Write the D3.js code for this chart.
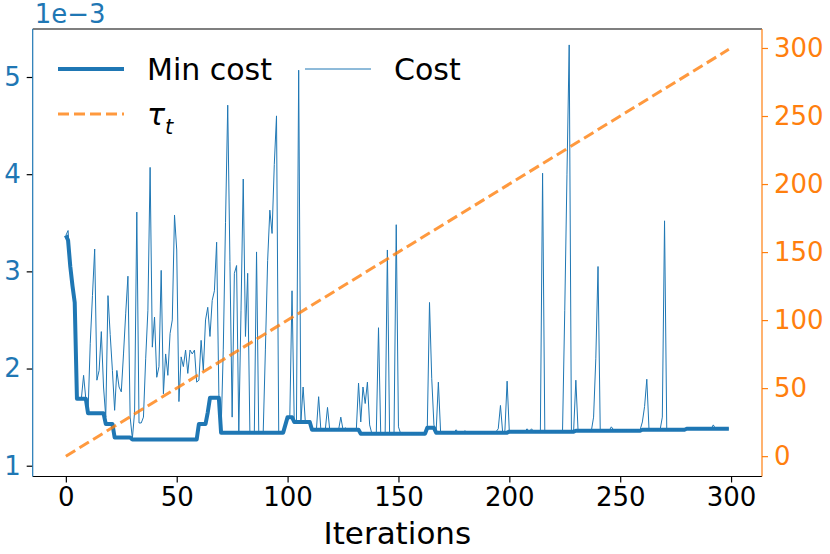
<!DOCTYPE html>
<head>
  <meta charset="utf-8">
  <title>Cost vs iterations</title>
</head>

<!-- Load d3.js -->
<script src="https://cdn.jsdelivr.net/npm/d3@7"></script>

<style>
body { margin: 0; background: #fff; }
text { font-family: "DejaVu Sans", sans-serif; }
</style>

<div id="my_dataviz"></div>

<script>

// ---------------------------//
//            DATA            //
// ---------------------------//

// cost per iteration, in units of 1e-3 (index = iteration)
var cost = [
  3.37,3.42,3.05,2.85,2.68,1.69,1.69,1.69,1.93,1.69,
  1.54,2.26,2.75,3.23,1.88,1.98,2.38,1.81,1.50,2.75,
  2.35,1.98,1.57,1.98,1.81,1.76,2.15,2.57,2.95,1.50,
  1.28,1.55,3.61,1.44,1.44,1.50,2.10,2.60,4.07,2.22,
  2.53,1.91,2.02,3.01,1.74,2.15,1.93,2.36,2.50,3.58,
  3.22,1.66,2.12,2.02,2.19,1.95,2.19,2.15,2.19,1.86,
  1.88,2.29,1.98,2.50,2.63,2.33,2.70,2.80,3.30,1.74,
  1.34,2.20,3.50,4.71,3.10,1.50,2.98,3.06,1.34,2.60,
  3.95,2.33,2.98,1.34,1.34,1.34,3.20,1.34,1.34,1.34,
  2.20,3.11,3.63,3.39,4.10,4.60,1.34,1.34,1.34,1.42,
  1.50,1.50,2.80,1.45,1.45,5.07,1.45,1.81,1.45,1.45,
  1.45,1.37,1.37,1.37,1.71,1.37,1.37,1.37,1.60,1.37,
  1.37,1.37,1.37,1.37,1.50,1.37,1.39,1.37,1.37,1.37,
  1.37,1.37,1.85,1.45,1.81,1.64,1.86,1.42,1.33,1.33,
  1.33,2.42,1.33,1.33,1.33,3.22,1.33,1.33,1.33,3.48,
  1.40,1.33,1.33,1.33,1.33,1.33,1.33,1.33,1.33,1.33,
  1.33,1.33,1.33,1.39,2.68,1.90,1.42,1.35,1.86,1.35,
  1.34,1.34,1.34,1.34,1.34,1.34,1.37,1.34,1.34,1.34,
  1.36,1.34,1.34,1.34,1.34,1.34,1.34,1.34,1.34,1.34,
  1.34,1.34,1.34,1.34,1.35,1.38,1.62,1.34,1.36,1.87,
  1.35,1.35,1.35,1.35,1.35,1.35,1.35,1.35,1.38,1.35,
  1.38,1.35,1.35,1.35,1.35,4.01,1.35,1.35,1.35,1.35,
  1.35,1.35,1.35,1.35,1.36,2.60,4.00,5.33,1.36,1.36,
  1.88,1.36,1.36,1.36,1.36,1.36,1.36,1.36,1.50,2.10,
  3.05,1.36,1.36,1.36,1.36,1.36,1.40,1.37,1.37,1.37,
  1.37,1.37,1.37,1.37,1.37,1.37,1.37,1.37,1.37,1.37,
  1.45,1.61,1.89,1.37,1.37,1.37,1.37,1.37,1.37,1.50,
  3.52,1.37,1.37,1.37,1.37,1.37,1.37,1.37,1.37,1.37,
  1.38,1.38,1.38,1.38,1.38,1.38,1.38,1.38,1.38,1.38,
  1.38,1.38,1.42,1.38,1.38,1.38,1.38,1.38,1.38,1.38
];

// min cost per iteration, in units of 1e-3
var minCost = [
  3.37,3.32,3.05,2.85,2.68,1.69,1.69,1.69,1.69,1.69,
  1.54,1.54,1.54,1.54,1.54,1.54,1.54,1.54,1.43,1.43,
  1.43,1.43,1.29,1.29,1.29,1.29,1.29,1.29,1.29,1.29,
  1.27,1.27,1.27,1.27,1.27,1.27,1.27,1.27,1.27,1.27,
  1.27,1.27,1.27,1.27,1.27,1.27,1.27,1.27,1.27,1.27,
  1.27,1.27,1.27,1.27,1.27,1.27,1.27,1.27,1.27,1.27,
  1.43,1.43,1.43,1.43,1.55,1.70,1.70,1.70,1.70,1.70,
  1.34,1.34,1.34,1.34,1.34,1.34,1.34,1.34,1.34,1.34,
  1.34,1.34,1.34,1.34,1.34,1.34,1.34,1.34,1.34,1.34,
  1.34,1.34,1.34,1.34,1.34,1.34,1.34,1.34,1.34,1.42,
  1.50,1.50,1.50,1.45,1.45,1.45,1.45,1.45,1.45,1.45,
  1.45,1.37,1.37,1.37,1.37,1.37,1.37,1.37,1.37,1.37,
  1.37,1.37,1.37,1.37,1.37,1.37,1.37,1.37,1.37,1.37,
  1.37,1.37,1.37,1.33,1.33,1.33,1.33,1.33,1.33,1.33,
  1.33,1.33,1.33,1.33,1.33,1.33,1.33,1.33,1.33,1.33,
  1.33,1.33,1.33,1.33,1.33,1.33,1.33,1.33,1.33,1.33,
  1.33,1.33,1.33,1.39,1.39,1.39,1.39,1.34,1.34,1.34,
  1.34,1.34,1.34,1.34,1.34,1.34,1.34,1.34,1.34,1.34,
  1.34,1.34,1.34,1.34,1.34,1.34,1.34,1.34,1.34,1.34,
  1.34,1.34,1.34,1.34,1.34,1.34,1.34,1.34,1.34,1.34,
  1.35,1.35,1.35,1.35,1.35,1.35,1.35,1.35,1.35,1.35,
  1.35,1.35,1.35,1.35,1.35,1.35,1.35,1.35,1.35,1.35,
  1.35,1.35,1.35,1.35,1.35,1.35,1.35,1.35,1.35,1.35,
  1.36,1.36,1.36,1.36,1.36,1.36,1.36,1.36,1.36,1.36,
  1.36,1.36,1.36,1.36,1.36,1.36,1.36,1.36,1.36,1.36,
  1.36,1.36,1.36,1.36,1.36,1.36,1.36,1.36,1.36,1.36,
  1.37,1.37,1.37,1.37,1.37,1.37,1.37,1.37,1.37,1.37,
  1.37,1.37,1.37,1.37,1.37,1.37,1.37,1.37,1.37,1.37,
  1.38,1.38,1.38,1.38,1.38,1.38,1.38,1.38,1.38,1.38,
  1.38,1.38,1.38,1.38,1.38,1.38,1.38,1.38,1.38,1.38
];

// tau_t (right axis): straight line from first to last iteration
var tauIter = [0, 299];
var tauValue = [0, 299];

// tick labels
var xTicks = [0, 50, 100, 150, 200, 250, 300];
var yTicks = [1, 2, 3, 4, 5];
var y2Ticks = [0, 50, 100, 150, 200, 250, 300];

// ---------------------------//
//        SVG + MARGINS       //
// ---------------------------//

var margin = {top: 29, right: 68, bottom: 77.5, left: 32.7},
    width = 830 - margin.left - margin.right,
    height = 554 - margin.top - margin.bottom;

var blue = "#1f77b4",
    orange = "#ff7f0e";

var svg = d3.select("#my_dataviz")
  .append("svg")
    .attr("width", 830)
    .attr("height", 554)
  .append("g")
    .attr("transform", "translate(" + margin.left + "," + margin.top + ")");

// ---------------------------//
//       AXIS  AND SCALE      //
// ---------------------------//

var x = d3.scaleLinear()
  .domain([-14.95, 313.95])
  .range([0, width]);

var y = d3.scaleLinear()
  .domain([0.889, 5.494])
  .range([height, 0]);

var y2 = d3.scaleLinear()
  .domain([-14.95, 313.95])
  .range([height, 0]);

// X axis
var xAxis = svg.append("g")
  .attr("transform", "translate(0," + height + ")")
  .call(d3.axisBottom(x).tickValues(xTicks).tickFormat(d3.format("d"))
    .tickSize(6).tickPadding(5));
xAxis.select(".domain").remove();
xAxis.selectAll("line").attr("stroke", "#000").attr("stroke-width", 1.2);
xAxis.selectAll("text").attr("fill", "#000").style("font-size", "26px")
  .style("font-family", "DejaVu Sans");

// left Y axis
var yAxis = svg.append("g")
  .call(d3.axisLeft(y).tickValues(yTicks).tickFormat(d3.format("d"))
    .tickSize(6).tickPadding(6));
yAxis.select(".domain").remove();
yAxis.selectAll("line").attr("stroke", "#000").attr("stroke-width", 1.2);
yAxis.selectAll("text").attr("fill", blue).style("font-size", "26px")
  .style("font-family", "DejaVu Sans");

// right Y axis
var y2Axis = svg.append("g")
  .attr("transform", "translate(" + width + ",0)")
  .call(d3.axisRight(y2).tickValues(y2Ticks).tickFormat(d3.format("d"))
    .tickSize(6).tickPadding(6));
y2Axis.select(".domain").remove();
y2Axis.selectAll("line").attr("stroke", orange).attr("stroke-width", 1.2);
y2Axis.selectAll("text").attr("fill", orange).style("font-size", "26px")
  .style("font-family", "DejaVu Sans");

// offset text
svg.append("text")
  .attr("x", 2)
  .attr("y", -6)
  .attr("fill", blue)
  .style("font-size", "26px")
  .text("1e\u22123");

// X axis label
svg.append("text")
  .attr("text-anchor", "middle")
  .attr("x", width / 2)
  .attr("y", height + 67)
  .style("font-size", "31px")
  .text("Iterations");

// ---------------------------//
//           LINES            //
// ---------------------------//

var plot = svg.append("g");

plot.append("path")
  .datum(minCost)
  .attr("fill", "none")
  .attr("stroke", blue)
  .attr("stroke-width", 4)
  .attr("stroke-linejoin", "round")
  .attr("d", d3.line()
    .x(function(d, i) { return x(i); })
    .y(function(d) { return y(d); }));

plot.append("path")
  .datum(cost)
  .attr("fill", "none")
  .attr("stroke", blue)
  .attr("stroke-width", 1)
  .attr("stroke-linejoin", "round")
  .attr("d", d3.line()
    .x(function(d, i) { return x(i); })
    .y(function(d) { return y(d); }));

plot.append("path")
  .datum(tauIter)
  .attr("fill", "none")
  .attr("stroke", orange)
  .attr("stroke-opacity", 0.8)
  .attr("stroke-width", 3)
  .attr("stroke-dasharray", "11,5")
  .attr("d", d3.line()
    .x(function(d) { return x(d); })
    .y(function(d, i) { return y2(tauValue[i]); }));

// spines
svg.append("line").attr("x1", 0).attr("x2", width).attr("y1", 0).attr("y2", 0)
  .attr("stroke", "#000").attr("stroke-width", 1.2);
svg.append("line").attr("x1", 0).attr("x2", width).attr("y1", height).attr("y2", height)
  .attr("stroke", "#000").attr("stroke-width", 1.2);
svg.append("line").attr("x1", 0).attr("x2", 0).attr("y1", 0).attr("y2", height)
  .attr("stroke", blue).attr("stroke-width", 1.2);
svg.append("line").attr("x1", width).attr("x2", width).attr("y1", 0).attr("y2", height)
  .attr("stroke", orange).attr("stroke-width", 1.2);

// ---------------------------//
//           LEGEND           //
// ---------------------------//

var legendItems = [
  {label: "Min cost", col: 0, row: 0, w: 4, dash: null, color: blue, op: 1},
  {label: "\u03c4", sub: "t", col: 0, row: 1, w: 3, dash: "11,5", color: orange, op: 0.8},
  {label: "Cost", col: 1, row: 0, w: 1, dash: null, color: blue, op: 1}
];
var legX = [58 - margin.left, 305 - margin.left],
    legY = [69 - margin.top, 114 - margin.top];

var leg = svg.append("g");
legendItems.forEach(function(d) {
  var lx = legX[d.col], ly = legY[d.row];
  leg.append("line")
    .attr("x1", lx).attr("x2", lx + 66)
    .attr("y1", ly).attr("y2", ly)
    .attr("stroke", d.color)
    .attr("stroke-opacity", d.op)
    .attr("stroke-width", d.w)
    .attr("stroke-dasharray", d.dash);
  var t = leg.append("text")
    .attr("x", lx + 89)
    .attr("y", ly + 11)
    .style("font-size", "30px")
    .style("font-style", d.sub ? "italic" : null)
    .text(d.label);
  if (d.sub) {
    t.append("tspan")
      .attr("dy", 9)
      .style("font-size", "21px")
      .text(d.sub);
  }
});

</script>
